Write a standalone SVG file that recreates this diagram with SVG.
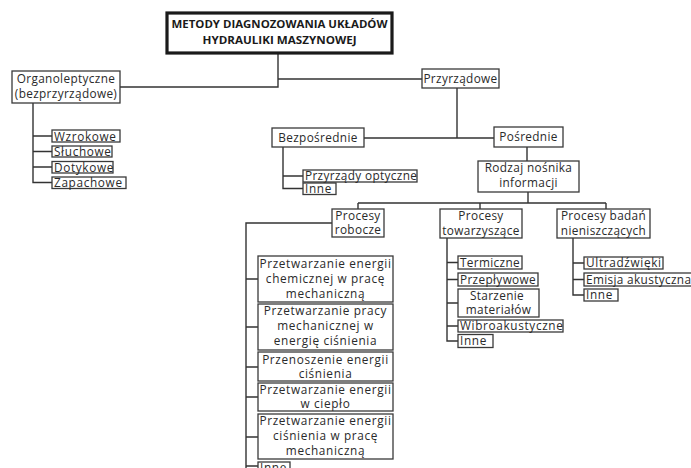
<svg xmlns="http://www.w3.org/2000/svg" width="691" height="468" viewBox="0 0 691 468">
<style>
  rect { fill: #fff; stroke: #3a3a3a; stroke-width: 1.3; }
  rect.title { stroke: #1a1a1a; stroke-width: 3.2; }
  text { font-family: "Open Sans", "DejaVu Sans", sans-serif; font-size: 11.8px; fill: #2a2a2a; letter-spacing: 0.35px; }
  text.c { text-anchor: middle; }
  text.w { letter-spacing: 0.65px; }
  text.t { font-weight: bold; font-size: 11px; text-anchor: middle; fill: #1a1a1a; letter-spacing: 0; }
  #connectors path { fill: none; stroke: #333; stroke-width: 1.4; }
</style>
<rect x="0" y="0" width="691" height="468" style="fill:#fff;stroke:none"/>
<g id="connectors">
  <path d="M278 53 V87 H120 M278 79 H422"/>
  <path d="M33 103 V182.5 H52 M33 136 H52 M33 151.5 H52 M33 167 H52"/>
  <path d="M457 88 V138 M364 138 H494"/>
  <path d="M283 147 V188.5 H303 M283 176 H303"/>
  <path d="M527 147 V161 M528 192 V203 M358 203 H606 M358 203 V209 M480 203 V209 M606 203 V209"/>
  <path d="M332 223 H246 V470 M246 279 H258 M246 327 H258 M246 367 H258 M246 397 H258 M246 437 H258 M246 466 H258"/>
  <path d="M447 238 V341 H458 M447 262.5 H458 M447 279.5 H458 M447 303 H458 M447 326 H458"/>
  <path d="M573 238 V295 H584 M573 263 H584 M573 279.5 H584"/>
</g>
<g id="title">
  <rect class="title" x="167" y="13" width="225" height="40"/>
  <text class="t" x="279.5" y="28" textLength="216" lengthAdjust="spacingAndGlyphs">METODY DIAGNOZOWANIA UKŁADÓW</text>
  <text class="t" x="279.5" y="44" textLength="154" lengthAdjust="spacingAndGlyphs">HYDRAULIKI MASZYNOWEJ</text>
</g>
<g id="organoleptyczne">
  <rect x="12" y="71" width="108" height="32"/>
  <text class="c" x="66" y="83">Organoleptyczne</text>
  <text class="c" x="66" y="98">(bezprzyrządowe)</text>
</g>
<g id="wzrokowe"><rect x="52" y="130" width="68" height="12"/><text class="w" x="54" y="140.5">Wzrokowe</text></g>
<g id="sluchowe"><rect x="52" y="146" width="60" height="11"/><text class="w" x="54" y="156">Słuchowe</text></g>
<g id="dotykowe"><rect x="52" y="161.5" width="61" height="11.5"/><text class="w" x="54" y="171.5">Dotykowe</text></g>
<g id="zapachowe"><rect x="52" y="177" width="74" height="11.5"/><text class="w" x="54" y="187">Zapachowe</text></g>
<g id="przyrzadowe">
  <rect x="422" y="69" width="77" height="19"/>
  <text class="c" x="460.5" y="83">Przyrządowe</text>
</g>
<g id="bezposrednie">
  <rect x="272" y="128" width="92" height="19"/>
  <text class="c" x="318" y="142">Bezpośrednie</text>
</g>
<g id="przyrzady-optyczne"><rect x="303" y="170" width="114" height="12"/><text x="305" y="180">Przyrządy optyczne</text></g>
<g id="inne-bezp"><rect x="303" y="183" width="33" height="11.5"/><text class="w" x="305" y="193">Inne</text></g>
<g id="posrednie">
  <rect x="494" y="127" width="69" height="20"/>
  <text class="c" x="528.5" y="141">Pośrednie</text>
</g>
<g id="rodzaj">
  <rect x="478" y="161" width="101" height="31"/>
  <text class="c" x="528.5" y="172">Rodzaj nośnika</text>
  <text class="c" x="528.5" y="187">informacji</text>
</g>
<g id="procesy-robocze">
  <rect x="332" y="209" width="52" height="28"/>
  <text class="c" x="358" y="220">Procesy</text>
  <text class="c" x="358" y="234">robocze</text>
</g>
<g id="procesy-towarzyszace">
  <rect x="440" y="209" width="82" height="29"/>
  <text class="c" x="481" y="220">Procesy</text>
  <text class="c" x="481" y="235">towarzyszące</text>
</g>
<g id="procesy-badan">
  <rect x="557" y="209" width="93" height="29"/>
  <text class="c" x="603.5" y="220">Procesy badań</text>
  <text class="c" x="603.5" y="235">nieniszczących</text>
</g>
<g id="r1">
  <rect x="258" y="256" width="135" height="46"/>
  <text class="c w" x="325.5" y="268">Przetwarzanie energii</text>
  <text class="c w" x="325.5" y="283">chemicznej w pracę</text>
  <text class="c w" x="325.5" y="298">mechaniczną</text>
</g>
<g id="r2">
  <rect x="258" y="304" width="135" height="46"/>
  <text class="c w" x="325.5" y="315">Przetwarzanie pracy</text>
  <text class="c w" x="325.5" y="330">mechanicznej w</text>
  <text class="c w" x="325.5" y="345">energię ciśnienia</text>
</g>
<g id="r3">
  <rect x="258" y="352" width="135" height="29"/>
  <text class="c w" x="325.5" y="364">Przenoszenie energii</text>
  <text class="c w" x="325.5" y="378">ciśnienia</text>
</g>
<g id="r4">
  <rect x="258" y="383" width="135" height="28"/>
  <text class="c w" x="325.5" y="394">Przetwarzanie energii</text>
  <text class="c w" x="325.5" y="408">w ciepło</text>
</g>
<g id="r5">
  <rect x="258" y="414" width="135" height="45"/>
  <text class="c w" x="325.5" y="425">Przetwarzanie energii</text>
  <text class="c w" x="325.5" y="440">ciśnienia w pracę</text>
  <text class="c w" x="325.5" y="455">mechaniczną</text>
</g>
<g id="r6"><rect x="258" y="462" width="32" height="12"/><text class="w" x="260" y="472">Inne</text></g>
<g id="termiczne"><rect x="458" y="256" width="64" height="13"/><text x="460" y="266.5">Termiczne</text></g>
<g id="przeplywowe"><rect x="458" y="273" width="80" height="13"/><text x="460" y="283.5">Przepływowe</text></g>
<g id="starzenie">
  <rect x="458" y="289" width="81" height="28"/>
  <text class="c" x="497" y="300">Starzenie</text>
  <text class="c" x="498.5" y="314">materiałów</text>
</g>
<g id="wibroakustyczne"><rect x="458" y="320" width="105" height="12"/><text class="w" x="460" y="330">Wibroakustyczne</text></g>
<g id="inne-tow"><rect x="458" y="334.5" width="35" height="13"/><text class="w" x="460" y="345">Inne</text></g>
<g id="ultradzwieki"><rect x="584" y="257" width="79" height="12"/><text class="w" x="586" y="267">Ultradźwięki</text></g>
<g id="emisja"><rect x="584" y="273" width="112" height="13"/><text x="586" y="283.5">Emisja akustyczna</text></g>
<g id="inne-badan"><rect x="584" y="289" width="34" height="12"/><text class="w" x="586" y="299">Inne</text></g>
</svg>
